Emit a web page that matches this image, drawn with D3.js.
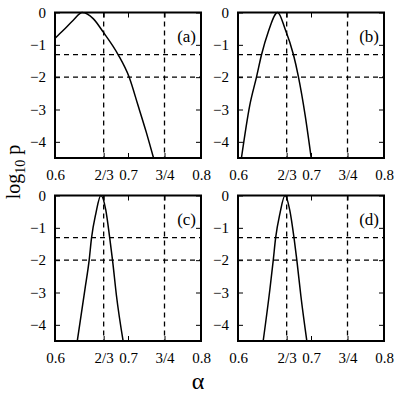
<!DOCTYPE html>
<html>
<head>
<meta charset="utf-8">
<script src="https://d3js.org/d3.v7.min.js"></script>
<style>
body { margin: 0; background: #fff; }
svg text { font-family: "Liberation Serif", "Times New Roman", serif; fill: #000; }
.frame { fill: none; stroke: #000; stroke-width: 2; }
.ref { stroke: #000; stroke-width: 1.3; stroke-dasharray: 5,4; fill: none; }
.curve { stroke: #000; stroke-width: 1.5; fill: none; }
</style>
</head>
<body>
<div id="chart"></div>
<script>
// curves: alpha vs log10 p
var alphaA = [0.6, 0.6114, 0.625, 0.6373, 0.6523, 0.6659, 0.6864, 0.7014, 0.7137, 0.725, 0.735],
    logpA  = [-0.80, -0.55, -0.24, 0, -0.19, -0.60, -1.30, -1.99, -2.87, -3.70, -4.5];
var alphaB = [0.6047, 0.6161, 0.6254, 0.6323, 0.6414, 0.6543, 0.6644, 0.6759, 0.6828, 0.692, 0.7003],
    logpB  = [-4.5, -2.87, -1.99, -1.30, -0.60, 0, -0.50, -1.30, -1.99, -3.18, -4.5];
var alphaC = [0.6305, 0.641, 0.6468, 0.650, 0.656, 0.6628, 0.6696, 0.675, 0.6788, 0.6842, 0.6933],
    logpC  = [-4.5, -2.90, -2.0, -1.32, -0.55, 0, -0.45, -1.32, -2.0, -3.1, -4.5];
var alphaD = [0.6345, 0.6437, 0.6483, 0.6515, 0.6575, 0.6644, 0.6709, 0.6768, 0.6806, 0.6861, 0.6943],
    logpD  = [-4.5, -2.9, -2.0, -1.32, -0.55, 0, -0.45, -1.32, -2.0, -3.1, -4.5];

var panelNames = ["(a)", "(b)", "(c)", "(d)"],
    xTicks = [0.6, 2/3, 0.7, 3/4, 0.8],
    xTickLabels = ["0.6", "2/3", "0.7", "3/4", "0.8"],
    yTicks = [0, -1, -2, -3, -4],
    yTickLabels = ["0", "\u22121", "\u22122", "\u22123", "\u22124"],
    refX = [2/3, 3/4],
    refY = [Math.log10(0.05), -2];

var panels = [
  { x: alphaA, y: logpA }, { x: alphaB, y: logpB },
  { x: alphaC, y: logpC }, { x: alphaD, y: logpD }
];

var W = 399, H = 394,
    lefts = [55, 238], tops = [12.5, 195.5],
    pw = 146, ph = 145.5,
    serif = '"Liberation Serif", "Times New Roman", serif';

var svg = d3.select('#chart').append('svg')
    .attr('width', W).attr('height', H);

function boxAxis(sel) {
  sel.attr('font-family', serif).attr('font-size', 15);
  sel.select('.domain').remove();
  sel.selectAll('line').attr('stroke', '#000');
}

panels.forEach(function(p, i) {
  var g = svg.append('g')
      .attr('transform', 'translate(' + lefts[i % 2] + ',' + tops[Math.floor(i / 2)] + ')');

  var x = d3.scaleLinear().domain([0.6, 0.8]).range([0, pw]),
      y = d3.scaleLinear().domain([-4.5, 0]).range([ph, 0]);

  // reference lines
  g.selectAll('.rx').data(refX).enter().append('line')
    .attr('class', 'ref')
    .attr('x1', x).attr('x2', x).attr('y1', 0).attr('y2', ph);
  g.selectAll('.ry').data(refY).enter().append('line')
    .attr('class', 'ref')
    .attr('y1', y).attr('y2', y).attr('x1', 0).attr('x2', pw);

  // curve
  var pts = p.x.map(function(a, k) { return [a, p.y[k]]; });
  g.append('path').attr('class', 'curve')
    .attr('d', d3.line().curve(d3.curveMonotoneX)
      .x(function(d) { return x(d[0]); }).y(function(d) { return y(d[1]); })(pts));

  // axes with inward ticks on all four sides
  g.append('g').attr('transform', 'translate(0,' + ph + ')')
    .call(d3.axisBottom(x).tickValues(xTicks).tickSizeInner(-5).tickSizeOuter(0).tickPadding(11)
      .tickFormat(function(d, k) { return xTickLabels[k]; }))
    .call(boxAxis);
  g.append('g')
    .call(d3.axisTop(x).tickValues(xTicks).tickSizeInner(-5).tickSizeOuter(0).tickFormat(''))
    .call(boxAxis);
  g.append('g')
    .call(d3.axisLeft(y).tickValues(yTicks).tickSizeInner(-5).tickSizeOuter(0).tickPadding(9)
      .tickFormat(function(d, k) { return yTickLabels[k]; }))
    .call(boxAxis);
  g.append('g').attr('transform', 'translate(' + pw + ',0)')
    .call(d3.axisRight(y).tickValues(yTicks).tickSizeInner(-5).tickSizeOuter(0).tickFormat(''))
    .call(boxAxis);

  g.append('rect').attr('class', 'frame').attr('width', pw).attr('height', ph);

  g.append('text').attr('x', pw - 5).attr('y', 29)
    .attr('text-anchor', 'end').attr('font-size', 17)
    .text(panelNames[i]);
});

// axis titles
var yl = svg.append('text')
    .attr('transform', 'translate(20,172) rotate(-90)')
    .attr('text-anchor', 'middle').attr('font-size', 20);
yl.append('tspan').text('log');
yl.append('tspan').attr('dy', 5).attr('font-size', 14).text('10');
yl.append('tspan').attr('dy', -5).text(' p');

svg.append('text').attr('x', 198).attr('y', 389)
  .attr('text-anchor', 'middle').attr('font-size', 24).text('\u03b1');
</script>
</body>
</html>
